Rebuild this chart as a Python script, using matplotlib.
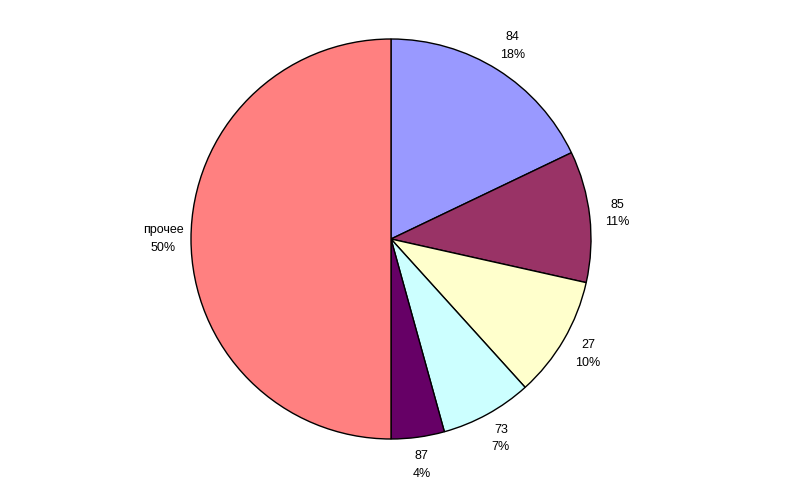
import matplotlib
matplotlib.use("Agg")
import matplotlib.pyplot as plt
import numpy as np

categories = ["84", "85", "27", "73", "87", "прочее"]
values = [17.9, 10.6, 9.8, 7.4, 4.3, 50.0]
colors = ["#9999FF", "#993366", "#FFFFCC", "#CCFFFF", "#660066", "#FF8080"]

plt.rcParams['font.family'] = ['Liberation Sans', 'DejaVu Sans']

fig = plt.figure(figsize=(8, 4.98), dpi=100)
W, H = 800, 498
cx, cy, r = 391, 239, 200
ax = fig.add_axes([(cx - r) / W, (H - cy - r) / H, 2 * r / W, 2 * r / H])
ax.set_aspect('equal')
ax.axis('off')

total = sum(values)
pct = [v / total * 100 for v in values]
labels = [f"{c}\n{p:.0f}%" for c, p in zip(categories, pct)]

wedges, texts = ax.pie(values, colors=colors, startangle=90, counterclock=False,
                       radius=1.0, labels=labels, labeldistance=1.14,
                       wedgeprops=dict(edgecolor='black', linewidth=1.0),
                       textprops=dict(fontsize=9, linespacing=1.6))
for t in texts:
    t.set_ha('center')
    t.set_va('center')
ax.set_xlim(-1, 1)
ax.set_ylim(-1, 1)

fig.savefig("out.png", dpi=100)
